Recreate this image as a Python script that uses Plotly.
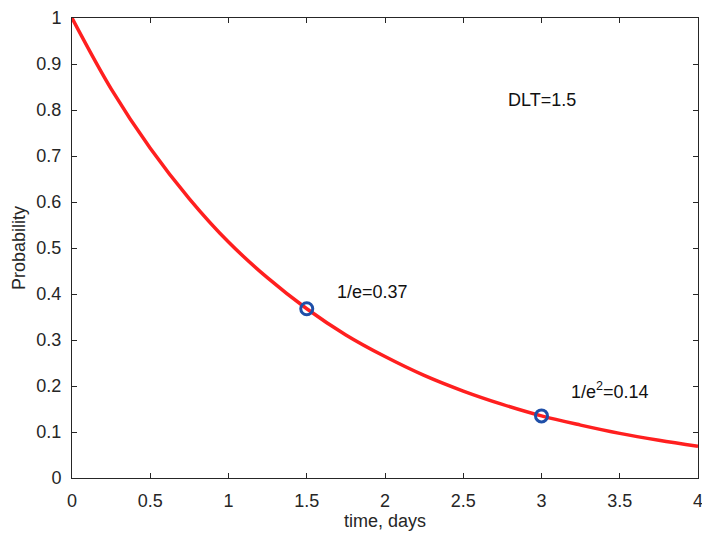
import plotly.graph_objects as go

# Values
time_days = [0, 0.25, 0.5, 0.75, 1.0, 1.25, 1.5, 1.75, 2.0, 2.25, 2.5, 2.75, 3.0, 3.25, 3.5, 3.75, 4.0]
probability = [1.0, 0.846, 0.717, 0.607, 0.513, 0.435, 0.368, 0.311, 0.264, 0.223, 0.189, 0.160, 0.135, 0.115, 0.097, 0.082, 0.069]

marker_t = [1.5, 3.0]
marker_p = [0.368, 0.135]

x_ticks = [0, 0.5, 1, 1.5, 2, 2.5, 3, 3.5, 4]
x_tick_text = ["0", "0.5", "1", "1.5", "2", "2.5", "3", "3.5", "4"]
y_ticks = [0, 0.1, 0.2, 0.3, 0.4, 0.5, 0.6, 0.7, 0.8, 0.9, 1]
y_tick_text = ["0", "0.1", "0.2", "0.3", "0.4", "0.5", "0.6", "0.7", "0.8", "0.9", "1"]

label_x = [3.0, 1.92, 3.44]
label_y = [0.822, 0.405, 0.19]
label_text = ["DLT=1.5", "1/e=0.37", "1/e<sup>2</sup>=0.14"]

FONT = "Liberation Sans, Arial"

fig = go.Figure()
fig.add_trace(go.Scatter(x=time_days, y=probability, mode="lines",
                         line=dict(color="#ff1f1f", width=3.5, shape="spline"),
                         showlegend=False, hoverinfo="skip"))
fig.add_trace(go.Scatter(x=marker_t, y=marker_p, mode="markers",
                         marker=dict(symbol="circle-open", size=12, color="#1f4fa8",
                                     line=dict(width=3, color="#1f4fa8")),
                         showlegend=False))

for lx, ly, lt in zip(label_x, label_y, label_text):
    fig.add_annotation(x=lx, y=ly, text=lt, showarrow=False,
                       font=dict(family=FONT, size=18, color="#111111"))

axis_common = dict(showgrid=False, zeroline=False, showline=True, linecolor="#262626",
                   linewidth=1, mirror="ticks", ticks="inside", ticklen=5,
                   tickcolor="#262626", ticklabelstandoff=6,
                   ticklabeloverflow="allow", automargin=False,
                   tickfont=dict(family=FONT, size=18, color="#262626"))

fig.update_xaxes(range=[0, 4], tickvals=x_ticks, ticktext=x_tick_text,
                 title=dict(text="time, days", standoff=4,
                            font=dict(family=FONT, size=18, color="#262626")),
                 **axis_common)
fig.update_yaxes(range=[0, 1], tickvals=y_ticks, ticktext=y_tick_text,
                 title=dict(text="Probability", standoff=6,
                            font=dict(family=FONT, size=18, color="#262626")),
                 **axis_common)

fig.update_layout(width=702, height=535, margin=dict(l=72, r=4, t=18, b=57),
                  plot_bgcolor="white", paper_bgcolor="white")

fig.write_html("out.html")
